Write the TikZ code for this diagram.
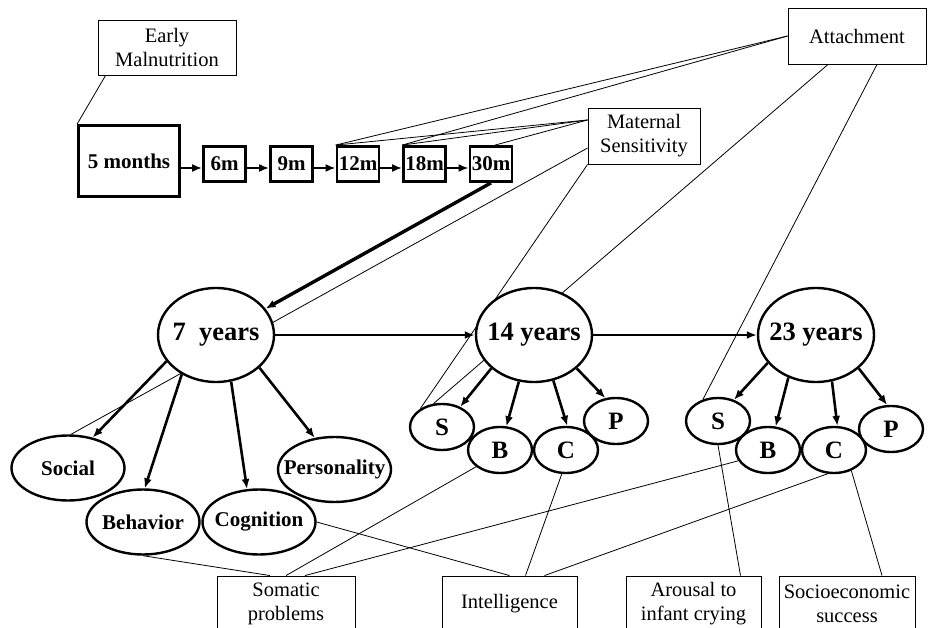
\documentclass[tikz,border=0pt]{standalone}
\usepackage{fontspec}
\setmainfont{Liberation Serif}
\usetikzlibrary{shapes.geometric,arrows.meta}
\pgfdeclarelayer{bg}
\pgfsetlayers{bg,main}
\newcommand{\zw}[1]{\makebox[0pt]{#1}}
\begin{document}
\begin{tikzpicture}[x=1pt,y=-1pt,
  tbox/.style={draw, line width=0.9pt, align=center, inner sep=0pt, fill=white,
    font=\fontsize{20.5}{24}\selectfont},
  kbox/.style={draw, line width=2.8pt, inner sep=0pt, fill=white,
    minimum width=42pt, minimum height=35pt, font=\bfseries\fontsize{21}{24}\selectfont},
  bigell/.style={ellipse, draw, fill=white, line width=2.4pt, inner sep=0pt,
    minimum width=116pt, minimum height=94pt, font=\bfseries\fontsize{26.5}{30}\selectfont},
  midell/.style={ellipse, draw, fill=white, line width=2.4pt, inner sep=0pt,
    minimum width=113pt, minimum height=65pt, font=\bfseries\fontsize{21}{24}\selectfont},
  smell/.style={ellipse, draw, fill=white, line width=2.4pt, inner sep=0pt,
    minimum width=64pt, minimum height=46pt, font=\bfseries\fontsize{25}{28}\selectfont},
  arr/.style={line width=2.6pt, -{Latex[length=10pt,width=8pt]}},
  link/.style={line width=0.8pt}
]
\useasboundingbox (0,0) rectangle (934,628);

% boxes
\node[tbox, minimum width=138pt, minimum height=55pt] (early) at (167,47.5) {Early\\Malnutrition};
\node[tbox, minimum width=138pt, minimum height=56pt] (att) at (857,36) {Attachment};
\node[tbox, minimum width=112pt, minimum height=56pt] (mat) at (644,136) {Maternal\\Sensitivity};
\node[kbox, minimum width=101pt, minimum height=71pt] (m5) at (129,161) {5 months};
\node[kbox] (m6) at (224.5,164) {6m};
\node[kbox] (m9) at (291.5,164) {9m};
\node[kbox] (m12) at (358,164) {12m};
\node[kbox] (m18) at (424.5,164) {18m};
\node[kbox] (m30) at (491,164) {30m};

% ellipses
\node[bigell] (y7) at (216,335) {\zw{7\ \ years}};
\node[bigell] (y14) at (534,335) {\zw{14 years}};
\node[bigell] (y23) at (816,335) {\zw{23 years}};

\node[midell] (soc) at (68,468) {\zw{Social}};
\node[midell] (beh) at (143,522) {\zw{Behavior}};
\node[midell] (cog) at (259,522) {\zw{Cognition}};
\node[midell] (per) at (334.5,469.5) {\zw{Personality}};

\node[smell] (s14) at (442,427) {\zw{S}};
\node[smell] (b14) at (500,450) {\zw{B}};
\node[smell] (c14) at (566,450) {\zw{C}};
\node[smell] (p14) at (616,421) {\zw{P}};

\node[smell] (s23) at (718,421) {\zw{S}};
\node[smell] (b23) at (768,450) {\zw{B}};
\node[smell] (c23) at (834,450) {\zw{C}};
\node[smell] (p23) at (891,429) {\zw{P}};

\node[tbox, minimum width=138pt, minimum height=56pt] (som) at (286,604) {Somatic\\problems};
\node[tbox, minimum width=135pt, minimum height=56pt] (int) at (509.5,604) {Intelligence};
\node[tbox, minimum width=135pt, minimum height=56pt] (aro) at (693.5,604) {Arousal to\\infant crying};
\node[tbox, minimum width=136pt, minimum height=56pt] (ses) at (847,604) {Socioeconomic\\success};

% thin connectors behind
\begin{pgfonlayer}{bg}
\draw[link] ([xshift=8pt]early.south west) -- (m5.north west);
\draw[link] (att.west) -- (m12.north west);
\draw[link] (att.west) -- (m18.north west);
\draw[link] ([yshift=16pt]mat.west) -- (m12.north west);
\draw[link] ([yshift=16pt]mat.west) -- (m18.north west);
\draw[link] ([yshift=16pt]mat.west) -- ([xshift=4pt]m30.north);
\draw[link] ([yshift=-12pt]mat.west) -- (soc.85);
\draw[link] (mat.south west) -- (s14.140);
\draw[link] ([xshift=-29pt]att.south) -- (s14.110);
\draw[link] ([xshift=20pt]att.south) -- (s23.125);
\draw[link] (beh.south) -- ([xshift=-16pt]som.north);
\draw[link] (som.north) -- (b14.215);
\draw[link] ([xshift=19pt]som.north) -- (b23.200);
\draw[link] (cog.east) -- (int.north);
\draw[link] (c14.-100) -- ([xshift=16pt]int.north);
\draw[link] (c23.-105) -- ([xshift=35pt]int.north);
\draw[link] (s23.south) -- ([xshift=47pt]aro.north);
\draw[link] (c23.-50) -- ([xshift=35pt]ses.north);
\end{pgfonlayer}

% arrows
\draw[arr] ([yshift=-7pt]m5.east) -- ([yshift=-4pt]m6.west);
\draw[arr] ([yshift=-4pt]m6.east) -- ([yshift=-4pt]m9.west);
\draw[arr] ([yshift=-4pt]m9.east) -- ([yshift=-4pt]m12.west);
\draw[arr] ([yshift=-4pt]m12.east) -- ([yshift=-4pt]m18.west);
\draw[arr] ([yshift=-4pt]m18.east) -- ([yshift=-4pt]m30.west);
\draw[arr, line width=3.4pt] (m30.south) -- (y7.28);
\draw[arr] (y7.east) -- (y14.west);
\draw[arr] (y14.east) -- (y23.west);

\draw[arr] (y7.208) -- (soc.51);
\draw[arr] (y7.229) -- (beh.87);
\draw[arr] (y7.288) -- (cog.110);
\draw[arr] (y7.323) -- (per.122);

\draw[arr] (y14.218) -- (s14.48);
\draw[arr] (y14.252) -- (b14.75);
\draw[arr] (y14.293) -- (c14.87);
\draw[arr] (y14.322) -- (p14.115);

\draw[arr] (y23.210) -- (s23.53);
\draw[arr] (y23.237) -- (b23.72);
\draw[arr] (y23.289) -- (c23.82);
\draw[arr] (y23.322) -- (p23.99);
\end{tikzpicture}
\end{document}
